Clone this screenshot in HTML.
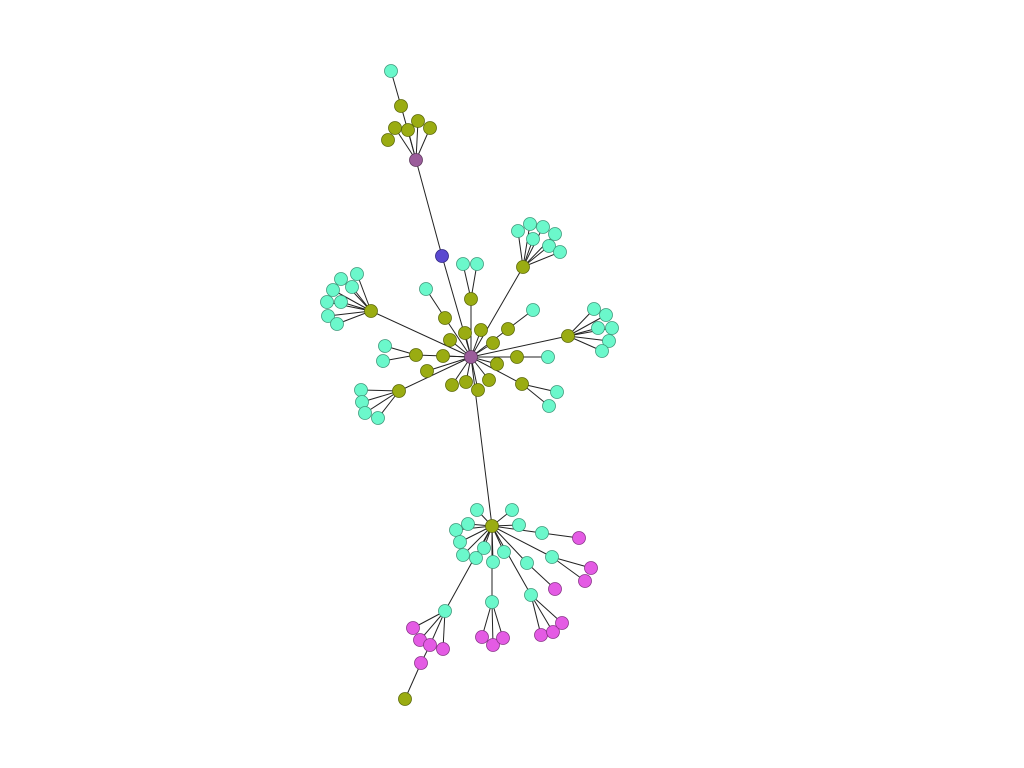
<!DOCTYPE html>
<html><head><meta charset="utf-8"><style>
html,body{margin:0;padding:0;background:#fff;width:1024px;height:768px;overflow:hidden}
svg{display:block}
</style></head><body>
<svg id="chart" width="1024" height="768" viewBox="0 0 1024 768">
<g id="edges"></g>
<g id="nodes"></g>
</svg>
<script>
// node data: id, x, y, group
const nodeIds = ["H","T","B","t1","t2","t3","t4","t5","t6","tc",
"L","L1","L2","L3","L4","L5","L6","L7","L8",
"TR","TR1","TR2","TR3","TR4","TR5","TR6","TR7",
"U","U1","U2","UL","UL1","R","R1","R2","R3","R4","R5","R6",
"UR","UR1","ML","ML1","ML2","BL","BL1","BL2","BL3","BL4","BR","BR1","BR2","MR","MR1",
"o1","o2","o3","o4","o5","o6","o7","o8","o9","o10","o11",
"S","s1","s2","s3","s4","s5","s6","s7","s8","s9","s10","s11",
"sa","ma","sb","mb1","mb2","sc","mc","sd","md1","md2","md3","se","me1","me2","me3",
"sf","mf1","mf2","mf3","mf4","mf5","of"];
const nodeX = [471,416,442,401,395,408,418,430,388,391,
371,341,357,333,352,327,341,328,337,
523,518,530,543,555,533,549,560,
471,463,477,445,426,568,594,606,598,612,609,602,
508,533,416,385,383,399,361,362,365,378,522,557,549,517,548,
465,481,493,450,443,427,452,466,478,489,497,
492,477,512,468,456,519,460,463,476,484,504,493,
542,579,552,591,585,527,555,531,541,553,562,492,482,493,503,
445,413,420,430,443,421,405];
const nodeY = [357,160,256,106,128,130,121,128,140,71,
311,279,274,290,287,302,302,316,324,
267,231,224,227,234,239,246,252,
299,264,264,318,289,336,309,315,328,328,341,351,
329,310,355,346,361,391,390,402,413,418,384,392,406,357,357,
333,330,343,340,356,371,385,382,390,380,364,
526,510,510,524,530,525,542,555,558,548,552,562,
533,538,557,568,581,563,589,595,635,632,623,602,637,645,638,
611,628,640,645,649,663,699];
const nodeGroup = ["p","p","b","o","o","o","o","o","o","c",
"o","c","c","c","c","c","c","c","c",
"o","c","c","c","c","c","c","c",
"o","c","c","o","c","o","c","c","c","c","c","c",
"o","c","o","c","c","o","c","c","c","c","o","c","c","o","c",
"o","o","o","o","o","o","o","o","o","o","o",
"o","c","c","c","c","c","c","c","c","c","c","c",
"c","m","c","m","m","c","m","c","m","m","m","c","m","m","m",
"c","m","m","m","m","m","o"];
const edgeFrom = ["T","B","T","T","T","T","T","t1",
"H","L","L","L","L","L","L","L","L",
"H","TR","TR","TR","TR","TR","TR","TR",
"H","U","U","H","UL","H","R","R","R","R","R","R",
"H","UR","H","ML","ML","H","BL","BL","BL","BL","H","BR","BR","H","MR",
"H","H","H","H","H","H","H","H","H","H","H",
"H","S","S","S","S","S","S","S","S","S","S","S",
"S","sa","S","sb","sb","S","sc","S","sd","sd","sd","S","se","se","se",
"S","sf","sf","sf","sf","mf3","mf5"];
const edgeTo = ["B","H","t1","t2","t3","t4","t5","tc",
"L","L1","L2","L3","L4","L5","L6","L7","L8",
"TR","TR1","TR2","TR3","TR4","TR5","TR6","TR7",
"U","U1","U2","UL","UL1","R","R1","R2","R3","R4","R5","R6",
"UR","UR1","ML","ML1","ML2","BL","BL1","BL2","BL3","BL4","BR","BR1","BR2","MR","MR1",
"o1","o2","o3","o4","o5","o6","o7","o8","o9","o10","o11",
"S","s1","s2","s3","s4","s5","s6","s7","s8","s9","s10","s11",
"sa","ma","sb","mb1","mb2","sc","mc","sd","md1","md2","md3","se","me1","me2","me3",
"sf","mf1","mf2","mf3","mf4","mf5","of"];
const colors = {p:"#9b5d9b",b:"#5a48d0",o:"#9aac12",c:"#6bf8cb",m:"#e45be4"};
const strokes = {p:"#5e3a5e",b:"#2f2680",o:"#5d6a0a",c:"#3f9a7c",m:"#8a358a"};
const NS="http://www.w3.org/2000/svg";
const idx={}; nodeIds.forEach((id,i)=>idx[id]=i);
const eg=document.getElementById('edges'), ng=document.getElementById('nodes');
edgeFrom.forEach((f,k)=>{
  const a=idx[f], b=idx[edgeTo[k]];
  const l=document.createElementNS(NS,'line');
  l.setAttribute('x1',nodeX[a]);l.setAttribute('y1',nodeY[a]);
  l.setAttribute('x2',nodeX[b]);l.setAttribute('y2',nodeY[b]);
  l.setAttribute('stroke','#222');l.setAttribute('stroke-width','1');
  
  
  eg.appendChild(l);
});
nodeIds.forEach((id,i)=>{
  const c=document.createElementNS(NS,'circle');
  const g=nodeGroup[i];
  c.setAttribute('cx',nodeX[i]);c.setAttribute('cy',nodeY[i]);
  c.setAttribute('r',(g==='p'||g==='b')?6.5:6.5);
  c.setAttribute('fill',colors[g]);c.setAttribute('stroke',strokes[g]);c.setAttribute('stroke-width','0.8');
  
  
  ng.appendChild(c);
});
</script>
</body></html>
